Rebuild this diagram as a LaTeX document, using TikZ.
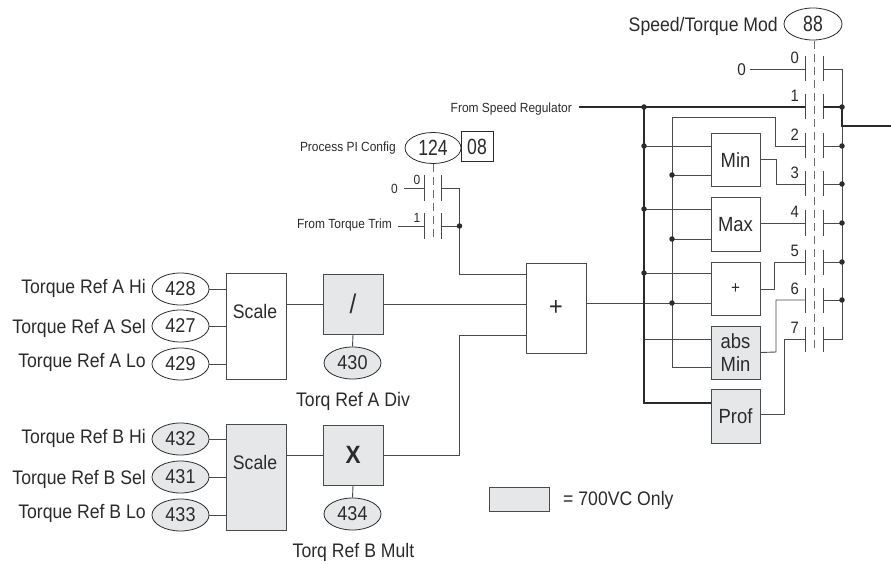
\documentclass[tikz,border=0pt]{standalone}
\usepackage{fontspec}
\setmainfont[FakeStretch=0.9]{Liberation Sans}
\newfontfamily\narrowf[FakeStretch=0.8]{Liberation Sans}
\usetikzlibrary{shapes.geometric}
\definecolor{ink}{HTML}{2B2B2B}
\definecolor{wire}{HTML}{4A4A4A}
\definecolor{shade}{HTML}{E6E7E8}
\tikzset{
  wireline/.style={draw=wire,line width=0.9pt,line join=miter},
  heavy/.style={draw=ink,line width=2pt,line join=miter},
  blk/.style={draw=wire,line width=1pt,fill=#1,rectangle,inner sep=0pt,align=center,text=ink},
  blk/.default=white,
  oval/.style={draw=ink,line width=0.8pt,fill=#1,ellipse,inner sep=0pt,text=ink,font=\fontsize{20}{20}\selectfont},
  oval/.default=white,
  lbl/.style={text=ink,inner sep=0pt,font=\fontsize{19.6}{20}\selectfont},
  small/.style={text=ink,inner sep=0pt,font=\fontsize{13.3}{14}\selectfont},
  num/.style={text=ink,inner sep=0pt,font=\fontsize{16.5}{16.5}\selectfont},
  bar/.style={draw=wire,line width=0.9pt},
  gang/.style={draw=gray!85!black,line width=0.9pt,dash pattern=on 8pt off 5pt},
  dot/.style={circle,fill=ink,inner sep=0pt,minimum size=5.5pt},
}
\begin{document}
\begin{tikzpicture}[x=1pt,y=-1pt]
\useasboundingbox (0,0) rectangle (891,564);

% Top selector
\node[oval,minimum width=58pt,minimum height=32pt,font=\narrowf\fontsize{22}{22}\selectfont] (p88) at (813,24) {88};
\node[lbl,anchor=base east] (l88) at (778,32) {Speed/Torque Mod};
\coordinate (g88e) at (814,352);
\draw[gang] (814,41) -- (g88e);
\foreach \n/\y in {0/69,1/107,2/146,3/184,4/223,5/262,6/300,7/339}{
  \coordinate (kL\n) at (805,\y);
  \coordinate (kR\n) at (823,\y);
  \draw[bar] (805,\y-12.5) -- (805,\y+12.5);
  \draw[bar] (823,\y-12.5) -- (823,\y+12.5);
  \node[num,anchor=east] (kn\n) at (799,\y-11.5) {\n};
}

% Bus points
\coordinate (busA) at (644,107);
\coordinate (busB) at (672,117);
\coordinate (out) at (842,107);
\coordinate (outE) at (891,126.5);

% Blocks, right column
\node[blk,minimum width=49pt,minimum height=53pt,font=\fontsize{20.5}{20}\selectfont] (min) at (735.5,160.5) {Min};
\node[blk,minimum width=49pt,minimum height=53pt,font=\fontsize{20.5}{20}\selectfont] (max) at (735.5,224.5) {Max};
\node[blk,minimum width=49pt,minimum height=53pt,font=\fontsize{17}{17}\selectfont] (pls) at (735.5,288.5) {+};
\node[blk=shade,minimum width=49pt,minimum height=53pt,font=\fontsize{20.5}{23}\selectfont] (abs) at (735.5,352.5) {abs\\Min};
\node[blk=shade,minimum width=49pt,minimum height=54pt,font=\fontsize{20.5}{20}\selectfont] (prof) at (735.5,416) {Prof};

% Left inputs
\foreach \nm/\t/\v/\y/\ty in {a/Torque Ref A Hi/428/289/293,b/Torque Ref A Sel/427/326/333,c/Torque Ref A Lo/429/364/367}{
  \node[oval,minimum width=57pt,minimum height=32pt] (e\nm) at (180.5,\y) {\v};
  \node[lbl,anchor=base east] (t\nm) at (146,\ty) {\t};
}
\foreach \nm/\t/\v/\y/\ty in {d/Torque Ref B Hi/432/439/443,e/Torque Ref B Sel/431/477/484,f/Torque Ref B Lo/433/515/518}{
  \node[oval=shade,minimum width=57pt,minimum height=32pt] (e\nm) at (180.5,\y) {\v};
  \node[lbl,anchor=base east] (t\nm) at (146,\ty) {\t};
}
\node[blk,minimum width=60pt,minimum height=106pt] (sa) at (256,326) {};
\node[lbl,anchor=base] (sat) at (255,318) {Scale};
\node[blk=shade,minimum width=60pt,minimum height=106pt] (sb) at (256,477) {};
\node[lbl,anchor=base] (sbt) at (255,469) {Scale};
\node[blk=shade,minimum width=60pt,minimum height=60pt,font=\fontsize{27}{27}\selectfont] (div) at (353,304) {/};
\node[blk=shade,minimum width=60pt,minimum height=60pt,font=\bfseries\fontsize{25}{25}\selectfont] (mul) at (353,455) {X};
\node[oval=shade,minimum width=57pt,minimum height=32pt] (p430) at (352.5,363) {430};
\node[oval=shade,minimum width=57pt,minimum height=32pt] (p434) at (352.5,514) {434};
\node[lbl,anchor=base] (l430) at (353,406) {Torq Ref A Div};
\node[lbl,anchor=base] (l434) at (353.5,557) {Torq Ref B Mult};
\node[blk,minimum width=60pt,minimum height=90pt,font=\fontsize{26}{26}\selectfont] (sum) at (556,308) {+};

% PI selector
\node[oval,minimum width=56pt,minimum height=31pt,font=\narrowf\fontsize{22}{22}\selectfont] (p124) at (433,148) {124};
\node[blk,draw=ink,minimum width=32pt,minimum height=30pt,font=\narrowf\fontsize{22}{22}\selectfont] (b08) at (477,147) {08};
\node[small,anchor=base east] (lpi) at (396,152) {Process PI Config};
\coordinate (g124e) at (433,239);
\draw[gang] (p124.south) -- (g124e);
\foreach \n/\y in {0/188,1/226}{
  \coordinate (mL\n) at (424,\y);
  \coordinate (mR\n) at (441,\y);
  \draw[bar] (424,\y-13) -- (424,\y+13);
  \draw[bar] (441,\y-13) -- (441,\y+13);
  \node[small,anchor=east] (mn\n) at (420.5,\y-8) {\n};
}
\node[small,anchor=east] (zero2) at (398,189) {0};
\node[small,anchor=base east] (ltt) at (392,228) {From Torque Trim};
\node[small,anchor=base east] (lsr) at (572,113) {From Speed Regulator};
\node[lbl,font=\fontsize{17}{17}\selectfont,anchor=east] (zero1) at (746,70) {0};

% Legend
\node[blk=shade,minimum width=60pt,minimum height=24pt] (leg) at (519.5,499) {};
\node[lbl,anchor=base west] (legt) at (563,505.5) {= 700VC Only};

% Left wiring
\foreach \nm in {a,b,c}{\draw[wireline] (e\nm.east) -- (sa.west |- e\nm.east);}
\foreach \nm in {d,e,f}{\draw[wireline] (e\nm.east) -- (sb.west |- e\nm.east);}
\draw[wireline] (sa.east |- div.west) -- (div.west);
\draw[wireline] (sb.east |- mul.west) -- (mul.west);
\draw[wireline] (div.south) -- (p430.north);
\draw[wireline] (mul.south) -- (p434.north);
\draw[wireline] (div.east) -- (sum.west |- div.east);
\draw[wireline] (mul.east) -- (459,455) -- (459,335) -- (sum.west |- 0,335);
\draw[wireline] (zero2.east) ++(6,-1) -- (mL0);
\draw[wireline] (398,226) -- (mL1);
\draw[wireline] (mR0) -- (459,188) -- (459,274) -- (sum.west |- 0,274);
\draw[wireline] (mR1) -- (459,226);
\node[dot] (jm) at (459.5,226) {};

% Right wiring
\draw[wireline] (sum.east |- 0,303) -- (pls.west |- 0,303);
\draw[wireline] (zero1.east) ++(4,-1) -- (kL0);
\draw[wireline] (busB) -- (775,117) -- (775,146) -- (kL2);
\draw[wireline] (busB) -- (672,367) -- (abs.west |- 0,367);
\foreach \y in {146,209,273,339}{\draw[wireline] (644,\y) -- (min.west |- 0,\y);}
\foreach \y in {175,239}{\draw[wireline] (672,\y) -- (min.west |- 0,\y);}
\draw[wireline] (min.east |- 0,159) -- (776,159) -- (776,184) -- (kL3);
\draw[wireline] (max.east |- kL4) -- (kL4);
\draw[wireline] (pls.east |- 0,289) -- (774,289) -- (774,262) -- (kL5);
\draw[wireline] (abs.east) -- (776,352) -- (776,300) -- (kL6);
\draw[wireline] (prof.east |- 0,414) -- (784,414) -- (784,339) -- (kL7);
\draw[wireline] (kR0) -- (842,69) -- (842,339) -- (kR7);
\foreach \n in {2,3,4,5,6}{\draw[wireline] (kR\n) -- (kR\n -| out); \node[dot] (jr\n) at (kR\n -| out) {};}
\draw[heavy] (579,107) -- (kL1);
\draw[heavy] (busA) -- (644,403) -- (prof.west |- 0,403);
\draw[heavy] (kR1) -- (out) -- (842,126.5) -- (outE);
\node[dot] (jo) at (out) {};
\foreach \y in {107,146,209,273}{\node[dot] at (644,\y) {};}
\foreach \y in {175,239,303}{\node[dot] at (672,\y) {};}
\end{tikzpicture}
\end{document}
